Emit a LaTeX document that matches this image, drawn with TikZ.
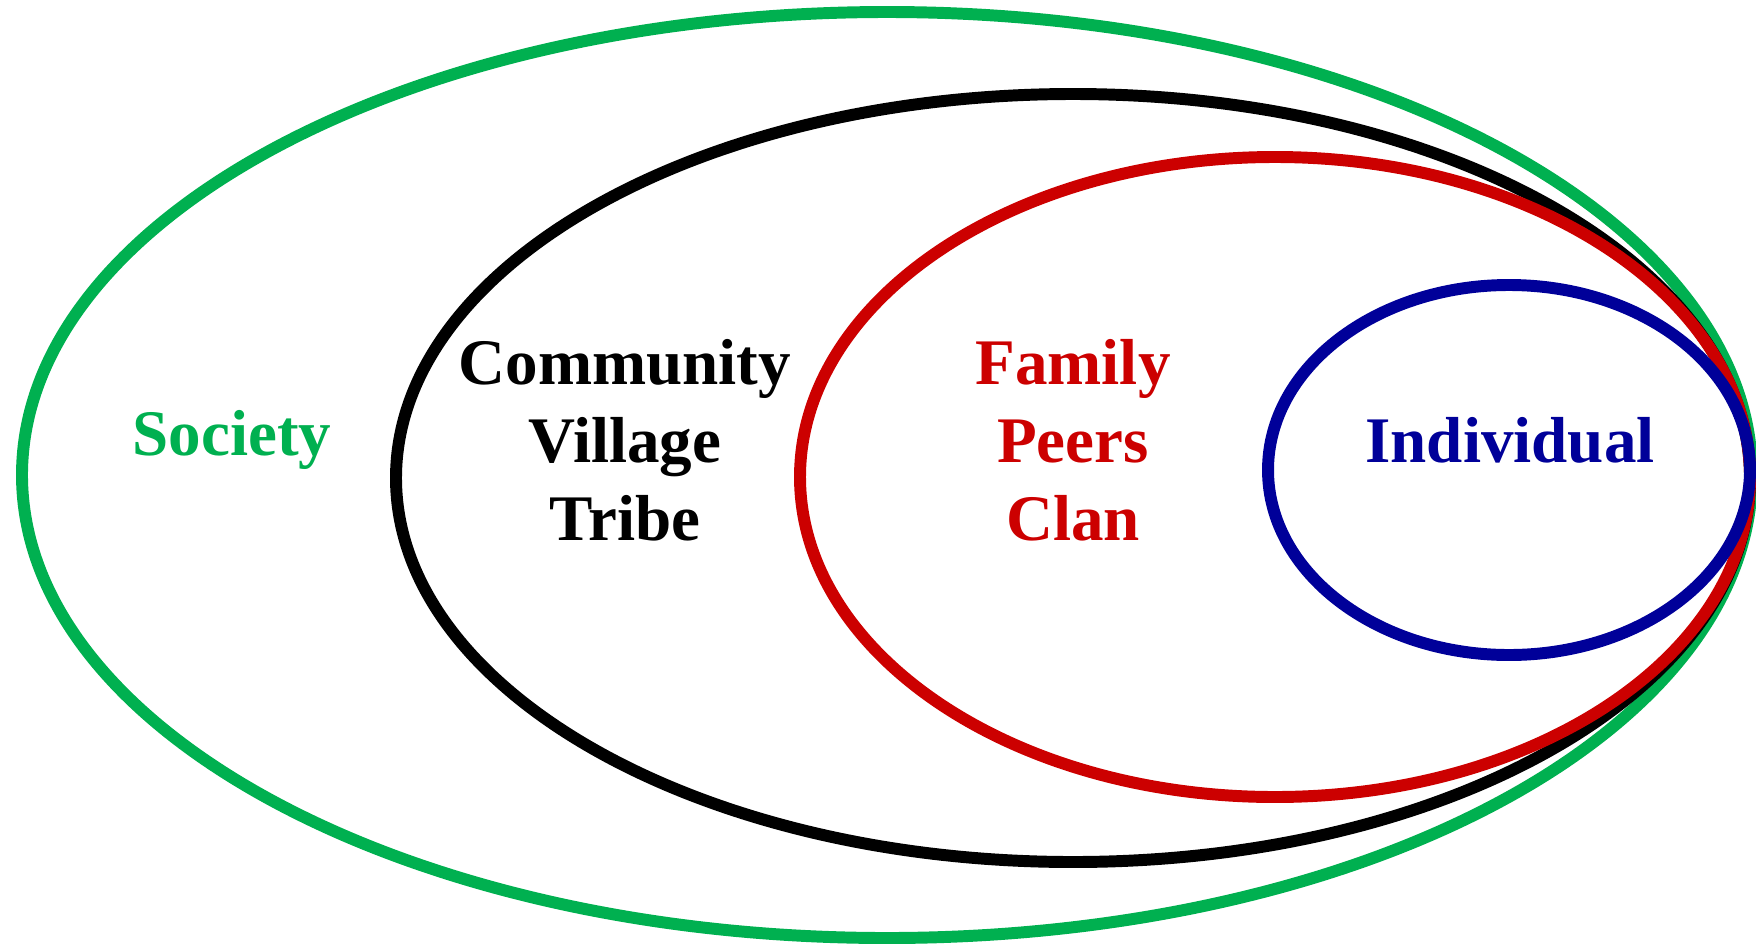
\documentclass[tikz,border=0pt]{standalone}
\usepackage{fontspec}
\setmainfont{Liberation Serif}
\definecolor{socgreen}{HTML}{00B050}
\definecolor{famred}{HTML}{CC0000}
\definecolor{indblue}{HTML}{000099}
\begin{document}
\begin{tikzpicture}[ring/.style={line width=3.4pt},
        label/.style={align=center, inner sep=0pt, font=\fontsize{18.5}{22.2}\selectfont\bfseries}]
            \useasboundingbox (0,0) rectangle (17.56,9.43);
            \draw[ring, socgreen] (8.87,4.68) ellipse [x radius=8.65, y radius=4.63];
            \draw[ring, black] (10.73,4.65) ellipse [x radius=6.77, y radius=3.84];
            \draw[ring, famred] (12.75,4.66) ellipse [x radius=4.75, y radius=3.20];
            \draw[ring, indblue] (15.09,4.73) ellipse [x radius=2.41, y radius=1.85];
            \node[label, socgreen] (society) at (2.32,5.03) {Society};
            \node[label, black] (community) at (6.25,5.03) {Community\\Village\\Tribe};
            \node[label, famred] (family) at (10.73,5.03) {Family\\Peers\\Clan};
            \node[label, indblue] (individual) at (15.10,5.03) {Individual};
        \end{tikzpicture}
\end{document}
